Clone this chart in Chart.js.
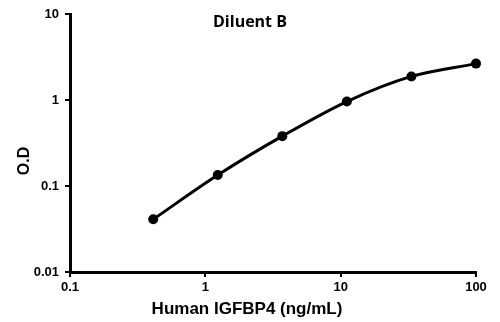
<!DOCTYPE html>
<html>
<head>
<meta charset="utf-8">
<script src="https://cdn.jsdelivr.net/npm/chart.js@4/dist/chart.umd.min.js"></script>
<style>
  html, body { margin: 0; padding: 0; background: #fff; }
  #wrap { width: 500px; height: 322px; }
</style>
</head>
<body>
<div id="wrap"><canvas id="curve"></canvas></div>
<script>
// standard curve, 3-fold dilutions
const conc = [0.412, 1.235, 3.704, 11.11, 33.33, 100];
const od = [0.041, 0.134, 0.38, 0.96, 1.88, 2.65];
const xTicks = [0.1, 1, 10, 100];
const yTicks = [0.01, 0.1, 1, 10];

const chartTitle = 'Diluent B';
const xTitle = 'Human IGFBP4 (ng/mL)';
const yTitle = 'O.D';

const points = conc.map((c, i) => ({ x: c, y: od[i] }));

// titles drawn by hand so they sit where we want them
const labelsPlugin = {
  id: 'labels',
  afterDraw(chart) {
    const ctx = chart.ctx;
    ctx.save();
    ctx.fillStyle = '#000';
    ctx.textAlign = 'center';
    ctx.textBaseline = 'middle';
    ctx.font = 'bold 16px "Open Sans"';
    ctx.fillText(chartTitle, 250, 22);
    ctx.font = 'bold 17px "Liberation Sans"';
    ctx.fillText(xTitle, 247, 309);
    ctx.font = 'bold 16px "Liberation Sans"';
    ctx.translate(25, 161);
    ctx.rotate(-Math.PI / 2);
    ctx.fillText(yTitle, 0, 0);
    ctx.restore();
  }
};

const tickFont = { family: 'Liberation Sans', size: 13, weight: 'bold' };

new Chart('curve', {
  type: 'scatter',
  data: {
    datasets: [{
      data: points,
      showLine: true,
      clip: false,
      borderColor: '#000',
      backgroundColor: '#000',
      borderWidth: 3,
      pointRadius: 5,
      pointBorderWidth: 0,
      pointHoverRadius: 5,
      tension: 0.4,
      cubicInterpolationMode: 'monotone'
    }]
  },
  options: {
    responsive: true,
    maintainAspectRatio: false,
    animation: false,
    layout: { padding: { top: 14, right: 24, left: 0, bottom: 0 } },
    plugins: { legend: { display: false }, tooltip: { enabled: false } },
    scales: {
      x: {
        type: 'logarithmic',
        min: 0.1,
        max: 100,
        afterBuildTicks: s => { s.ticks = xTicks.map(v => ({ value: v })); },
        afterFit: s => { s.height = 50; },
        border: { color: '#000', width: 3 },
        grid: { drawOnChartArea: false, color: '#000', lineWidth: 2, tickLength: 5 },
        ticks: {
          color: '#000',
          font: tickFont,
          padding: 3,
          maxRotation: 0,
          callback: v => String(v)
        }
      },
      y: {
        type: 'logarithmic',
        min: 0.01,
        max: 10,
        afterBuildTicks: s => { s.ticks = yTicks.map(v => ({ value: v })); },
        afterFit: s => { s.width = 70; },
        border: { color: '#000', width: 3 },
        grid: { drawOnChartArea: false, color: '#000', lineWidth: 2, tickLength: 5 },
        ticks: {
          color: '#000',
          font: tickFont,
          padding: 6,
          callback: v => String(v)
        }
      }
    }
  },
  plugins: [labelsPlugin]
});
</script>
</body>
</html>
